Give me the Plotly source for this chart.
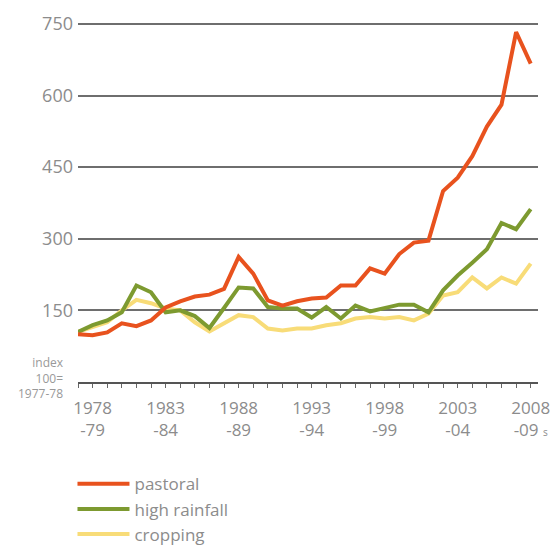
import plotly.graph_objects as go

years = [f"{y}-{str(y + 1)[-2:]}" for y in range(1977, 2009)]

pastoral = [100, 98, 104, 123, 117, 129, 156, 169, 179, 183, 195, 262, 227, 171, 160, 169,
            175, 177, 202, 202, 238, 227, 268, 292, 296, 400, 428, 473, 535, 581, 733, 667]
high_rainfall = [105, 119, 129, 146, 202, 188, 146, 150, 138, 113, 155, 198, 196, 157, 154, 154,
                 135, 157, 133, 160, 148, 156, 162, 162, 146, 192, 223, 250, 278, 333, 320, 362]
cropping = [105, 115, 125, 150, 172, 165, 154, 150, 125, 106, 123, 140, 136, 112, 108, 112,
            112, 119, 123, 133, 136, 133, 136, 129, 143, 181, 188, 219, 196, 219, 206, 248]

y_ticks = [150, 300, 450, 600, 750]
label_years = ["1978-79", "1983-84", "1988-89", "1993-94", "1998-99", "2003-04", "2008-09"]
label_text = ["1978<br>-79", "1983<br>-84", "1988<br>-89", "1993<br>-94", "1998<br>-99",
              "2003<br>-04", "2008<br>-09 <span style='font-size:10px'>s</span>"]

ticktext = []
for y in years:
    if y in label_years:
        ticktext.append(label_text[label_years.index(y)])
    else:
        ticktext.append("")

series = [
    ("pastoral", pastoral, "#E8521E"),
    ("high rainfall", high_rainfall, "#7D9A30"),
    ("cropping", cropping, "#F8DC78"),
]

fig = go.Figure()
for name, vals, col in reversed(series):
    fig.add_trace(go.Scatter(x=years, y=vals, mode="lines", name=name,
                             line=dict(color=col, width=4)))

text_col = "#8c8c8c"
fig.update_layout(
    width=552, height=544,
    margin=dict(l=70, r=22, t=14, b=170, autoexpand=False),
    paper_bgcolor="white", plot_bgcolor="white",
    font=dict(family="Open Sans", color=text_col),
    showlegend=True,
    legend=dict(x=-0.012, y=-0.234, xanchor="left", yanchor="top",
                traceorder="reversed", font=dict(size=17, color=text_col),
                tracegroupgap=0, itemwidth=52),
    xaxis=dict(type="category", range=[0, 31.5], tickmode="array",
               tickvals=years, ticktext=ticktext, ticks="outside", ticklen=4,
               tickcolor="#666", showline=True, linecolor="#555", linewidth=1.5,
               showgrid=False, zeroline=False, tickfont=dict(size=17, color=text_col),
               tickangle=0, automargin=False, ticklabelstandoff=6),
    yaxis=dict(range=[0, 754], tickmode="array", tickvals=y_ticks,
               showgrid=True, gridcolor="#6e6e6e", gridwidth=2, zeroline=False,
               showline=False, tickfont=dict(size=18, color=text_col), ticks="",
               ticklabelstandoff=4, automargin=False),
    annotations=[dict(text="index<br>100=<br>1977-78", xref="paper", yref="paper",
                      x=-0.027, y=0.083, xanchor="right", yanchor="top", showarrow=False,
                      align="right", font=dict(size=12, color="#999"))],
)

fig.write_html("out.html")
